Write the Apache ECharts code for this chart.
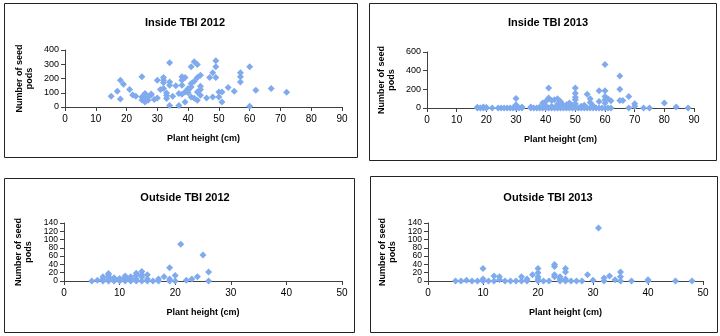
<!DOCTYPE html>
<html><head><meta charset="utf-8">
<script src="https://cdn.jsdelivr.net/npm/echarts@6/dist/echarts.min.js"></script>
<style>html,body{margin:0;padding:0;background:#fff}#c{width:720px;height:336px}</style>
</head><body><div id="c"></div>
<script>
// Panel titles
const titles = ['Inside TBI 2012', 'Inside TBI 2013', 'Outside TBI 2012', 'Outside TBI 2013'];
const xName = 'Plant height (cm)';
const yName = 'Number of seed\npods';
// Axis ranges
const xMax = [90, 90, 50, 50];
const xStep = [10, 10, 10, 10];
const yMax = [400, 600, 140, 140];
const yStep = [100, 200, 20, 20];
// y tick labels for the "Outside" panels (listed so that neighbours at the ends are not adjacent)
const yTicksOutside = [0, 40, 80, 120, 20, 60, 100, 140];

// Inside TBI 2012: [plant height, seed pods]
const inside2012 = [
 [15,75],[17,110],[18,188],[18,56],[19,160],[21,122],[22,85],[23,75],[25,212],[25,70],[25,50],
 [26,94],[26,35],[26,60],[27,70],[27,47],[28,85],[29,52],[30,188],[30,63],[31,122],[32,188],
 [32,207],[32,170],[32,130],[33,99],[33,59],[34,310],[34,176],[34,153],[34,10],[35,75],[36,150],
 [37,10],[37,94],[38,188],[38,212],[39,207],[38,153],[39,35],[38,89],[39,106],[40,118],[40,129],
 [41,141],[41,282],[41,165],[42,317],[42,181],[43,207],[43,298],[41,70],[42,62],[43,47],[44,82],
 [44,222],[44,146],[44,122],[43,106],[46,63],[47,207],[48,240],[48,70],[49,207],[49,324],[49,282],
 [50,70],[50,106],[51,106],[51,35],[53,136],[55,110],[57,176],[57,212],[57,240],[60,282],[60,5],
 [62,118],[67,129],[72,103],[28,92],[33,80],[40,100]
];
// Inside TBI 2013
const inside2013 = [
 [17,0],[18,0],[19,0],[20,0],[22,0],[24,0],[25,0],[26,0],[27,0],[28,0],[29,0],[30,0],[31,0],[32,0],
 [35,0],[36,0],[37,0],[38,0],[39,0],[40,0],[41,0],[42,0],[43,0],[44,0],[45,0],[46,0],[47,0],[48,0],
 [49,0],[50,0],[51,0],[52,0],[53,0],[54,0],[55,0],[56,0],[57,0],[58,0],[59,0],[60,0],[61,0],[62,0],
 [68,0],[73,0],[75,0],[88,0],[17,8],[19,10],[20,5],[30,15],[32,10],[35,10],[38,10],
 [30,102],[30,35],[41,215],[41,106],[42,80],[43,88],[40,70],[39,53],[44,99],[45,70],[45,46],[46,30],
 [47,35],[48,53],[49,30],[50,215],[50,159],[50,116],[50,88],[50,46],[52,20],[53,30],[54,148],[55,99],
 [55,60],[56,25],[58,184],[58,70],[60,466],[60,184],[60,124],[60,88],[60,53],[61,99],[62,78],
 [65,342],[65,201],[65,81],[66,81],[68,124],[70,46],[70,18],[80,53],[84,10],[40,25],[42,20],[44,40]
];
// Outside TBI 2012
const outside2012 = [
 [5,0],[6,2],[7,0],[7,5],[7,10],[8,0],[8,5],[8,10],[8,15],[8,18],[9,0],[9,5],[9,8],[10,0],[10,3],
 [10,6],[11,0],[11,5],[11,8],[11,12],[12,0],[12,4],[12,8],[12,10],[13,0],[13,5],[13,13],[13,19],
 [14,0],[14,10],[14,15],[14,23],[15,0],[15,5],[15,15],[16,0],[17,0],[17,5],[18,10],[19,0],[19,5],
 [19,32],[20,0],[20,13],[21,89],[22,2],[23,5],[24,10],[25,63],[26,0],[26,22]
];
// Outside TBI 2013
const outside2013 = [
 [5,0],[6,0],[7,2],[8,0],[9,0],[10,0],[10,5],[10,30],[11,0],[12,0],[12,12],[13,3],[13,10],[14,0],
 [15,0],[16,0],[17,0],[17,10],[18,0],[18,5],[19,15],[20,0],[20,5],[20,10],[20,20],[20,30],[21,0],
 [22,0],[23,10],[23,15],[23,35],[23,40],[24,0],[24,5],[24,10],[25,0],[25,5],[25,22],[25,30],[26,0],
 [27,0],[28,0],[29,15],[30,2],[31,128],[32,0],[32,7],[33,12],[34,3],[35,0],[35,10],[35,22],[37,0],
 [40,0],[40,3],[45,0],[48,0]
];
const panels = [inside2012, inside2013, outside2012, outside2013];

// layout
const grids = [
 {left:65, top:50, width:277, height:57},
 {left:427, top:52, width:267, height:56},
 {left:64, top:223, width:278, height:58},
 {left:428, top:223, width:275, height:58}
];
const boxes = [[4,3,353,154],[369,3,347,157],[4,178,350,154],[370,176,347,156]];
const titlePos = [[180,12],[543,12],[180,187],[543,187]];
const yLabelSize = [9,9,8.5,8.5];

const font = 'Liberation Sans, Arial, sans-serif';
const axisCol = '#404040';
const option = {
 animation:false,
 textStyle:{fontFamily:font},
 title: titles.map((t,i)=>({text:t, left:titlePos[i][0], top:titlePos[i][1], textAlign:'center',
   textStyle:{fontSize:11, fontWeight:'bold', color:'#000', fontFamily:font}})),
 grid: grids,
 xAxis: grids.map((g,i)=>({gridIndex:i, type:'value', min:0, max:xMax[i], interval:xStep[i],
   name:xName, nameLocation:'middle', nameGap:27,
   nameTextStyle:{fontSize:9, fontWeight:'bold', color:'#000', fontFamily:font},
   axisLine:{show:true, onZero:false, lineStyle:{color:axisCol, width:1}},
   axisTick:{show:true, inside:false, length:4, lineStyle:{color:axisCol}},
   axisLabel:{fontSize:10, color:'#000', margin:7, fontFamily:font, showMinLabel:true, showMaxLabel:true, hideOverlap:false},
   splitLine:{show:false}})),
 yAxis: grids.map((g,i)=>{
   const custom = i >= 2 ? yTicksOutside : undefined;
   return {gridIndex:i, type:'value', min:0, max:yMax[i], interval:yStep[i],
   name:yName, nameLocation:'middle', nameGap:30, nameRotate:90,
   nameTextStyle:{fontSize:9, fontWeight:'bold', color:'#000', fontFamily:font, lineHeight:10},
   axisLine:{show:true, lineStyle:{color:axisCol, width:1}},
   axisTick:{show:true, length:4, lineStyle:{color:axisCol}, customValues:custom},
   axisLabel:{fontSize:yLabelSize[i], lineHeight:9, color:'#000', margin:6, fontFamily:font, hideOverlap:false, customValues:custom},
   splitLine:{show:false}};
 }),
 series: panels.map((d,i)=>({type:'scatter', xAxisIndex:i, yAxisIndex:i, data:d,
   symbol:'diamond', symbolSize:7, itemStyle:{color:'#7faaee', opacity:1}})),
 graphic: boxes.map(b=>({type:'rect', shape:{x:b[0]+0.5, y:b[1]+0.5, width:b[2], height:b[3]},
   style:{fill:'none', stroke:'#222', lineWidth:1}, silent:true, z:-1}))
};
echarts.init(document.getElementById('c'), null, {renderer:'canvas'}).setOption(option);
</script></body></html>
